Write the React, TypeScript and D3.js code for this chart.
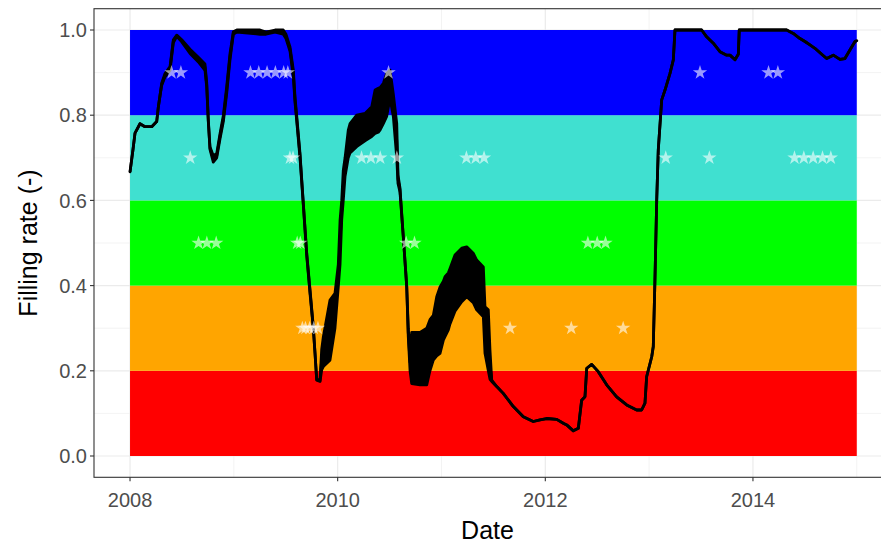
import React from "react";
import * as d3 from "d3";

// ---- data (decimal years) ----
const lineYears = [
  2008.000, 2008.029, 2008.048, 2008.096, 2008.144, 2008.209, 2008.257, 2008.273, 2008.305, 2008.337,
  2008.385, 2008.417, 2008.450, 2008.498, 2008.578, 2008.658, 2008.722, 2008.739, 2008.754, 2008.770,
  2008.802, 2008.835, 2008.867, 2008.899, 2008.931, 2008.963, 2008.995, 2009.028, 2009.252, 2009.310,
  2009.397, 2009.476, 2009.502, 2009.541, 2009.573, 2009.589, 2009.606, 2009.637, 2009.669, 2009.702,
  2009.734, 2009.765, 2009.782, 2009.798, 2009.830, 2009.846, 2009.862, 2009.926, 2009.974, 2010.006,
  2010.023, 2010.039, 2010.054, 2010.071, 2010.102, 2010.119, 2010.183, 2010.263, 2010.328, 2010.360,
  2010.391, 2010.408, 2010.440, 2010.472, 2010.504, 2010.536, 2010.569, 2010.581, 2010.600, 2010.632,
  2010.665, 2010.680, 2010.697, 2010.713, 2010.793, 2010.858, 2010.889, 2010.921, 2010.954, 2010.986,
  2011.018, 2011.034, 2011.066, 2011.082, 2011.130, 2011.195, 2011.243, 2011.306, 2011.339, 2011.371,
  2011.403, 2011.419, 2011.451, 2011.467, 2011.484, 2011.532, 2011.595, 2011.692, 2011.788, 2011.884,
  2011.949, 2012.013, 2012.110, 2012.173, 2012.206, 2012.270, 2012.318, 2012.350, 2012.382, 2012.399,
  2012.447, 2012.510, 2012.591, 2012.687, 2012.784, 2012.880, 2012.928, 2012.960, 2012.976, 2013.025,
  2013.040, 2013.056, 2013.073, 2013.088, 2013.121, 2013.153, 2013.201, 2013.233, 2013.249, 2013.506,
  2013.554, 2013.618, 2013.682, 2013.747, 2013.779, 2013.827, 2013.859, 2013.868, 2014.325, 2014.388,
  2014.453, 2014.501, 2014.549, 2014.597, 2014.662, 2014.710, 2014.774, 2014.838, 2014.886, 2014.934,
  2014.983, 2015.000,
];
// upper envelope of the filling rate
const rateHigh = [
  0.667, 0.720, 0.758, 0.780, 0.773, 0.773, 0.785, 0.820, 0.875, 0.898,
  0.914, 0.977, 0.988, 0.977, 0.955, 0.936, 0.920, 0.875, 0.789, 0.726,
  0.705, 0.710, 0.757, 0.800, 0.867, 0.945, 0.996, 1.000, 1.000, 0.995,
  1.000, 1.000, 0.990, 0.960, 0.906, 0.843, 0.797, 0.711, 0.594, 0.476,
  0.390, 0.304, 0.241, 0.180, 0.178, 0.250, 0.280, 0.366, 0.382, 0.450,
  0.554, 0.600, 0.671, 0.700, 0.765, 0.780, 0.800, 0.804, 0.820, 0.859,
  0.863, 0.865, 0.875, 0.898, 0.906, 0.850, 0.781, 0.660, 0.630, 0.515,
  0.400, 0.300, 0.240, 0.290, 0.290, 0.300, 0.320, 0.330, 0.374, 0.397,
  0.410, 0.421, 0.430, 0.440, 0.472, 0.488, 0.491, 0.476, 0.460, 0.452,
  0.444, 0.350, 0.343, 0.249, 0.178, 0.163, 0.147, 0.116, 0.092, 0.081,
  0.085, 0.088, 0.086, 0.077, 0.073, 0.059, 0.065, 0.131, 0.139, 0.206,
  0.215, 0.198, 0.167, 0.139, 0.120, 0.108, 0.108, 0.124, 0.186, 0.233,
  0.257, 0.413, 0.600, 0.718, 0.836, 0.859, 0.898, 0.930, 1.000, 1.000,
  0.984, 0.969, 0.949, 0.941, 0.941, 0.930, 0.943, 1.000, 1.000, 0.992,
  0.980, 0.973, 0.965, 0.957, 0.943, 0.933, 0.941, 0.931, 0.933, 0.953,
  0.973, 0.975,
];
// lower envelope of the filling rate
const rateLow = [
  0.667, 0.720, 0.758, 0.780, 0.773, 0.773, 0.785, 0.820, 0.870, 0.890,
  0.905, 0.970, 0.985, 0.972, 0.945, 0.925, 0.905, 0.865, 0.785, 0.720,
  0.690, 0.700, 0.745, 0.785, 0.850, 0.930, 0.990, 0.995, 0.990, 0.990,
  0.995, 0.990, 0.980, 0.950, 0.890, 0.830, 0.785, 0.700, 0.590, 0.470,
  0.380, 0.300, 0.240, 0.178, 0.175, 0.202, 0.210, 0.225, 0.300, 0.397,
  0.450, 0.554, 0.600, 0.656, 0.700, 0.711, 0.726, 0.740, 0.750, 0.757,
  0.760, 0.765, 0.780, 0.797, 0.840, 0.797, 0.700, 0.640, 0.620, 0.515,
  0.397, 0.280, 0.200, 0.170, 0.167, 0.167, 0.200, 0.225, 0.235, 0.241,
  0.272, 0.280, 0.296, 0.310, 0.340, 0.362, 0.374, 0.360, 0.343, 0.335,
  0.327, 0.241, 0.200, 0.180, 0.175, 0.163, 0.147, 0.116, 0.092, 0.081,
  0.085, 0.088, 0.086, 0.077, 0.073, 0.059, 0.065, 0.131, 0.139, 0.206,
  0.215, 0.198, 0.167, 0.139, 0.120, 0.108, 0.108, 0.124, 0.186, 0.233,
  0.257, 0.413, 0.600, 0.718, 0.836, 0.859, 0.898, 0.930, 1.000, 1.000,
  0.984, 0.969, 0.949, 0.941, 0.941, 0.930, 0.943, 1.000, 1.000, 0.992,
  0.980, 0.973, 0.965, 0.957, 0.943, 0.933, 0.941, 0.931, 0.933, 0.953,
  0.973, 0.975,
];

// stars (decimal years) at each class level
const stars09 = [2008.40, 2008.49, 2009.16, 2009.24, 2009.32, 2009.40, 2009.48, 2009.52, 2010.49, 2013.49, 2014.15, 2014.24];
const stars07 = [2008.58, 2009.54, 2009.57, 2010.23, 2010.32, 2010.41, 2010.57, 2011.24, 2011.33, 2011.41, 2013.16, 2013.58, 2014.40, 2014.49, 2014.58, 2014.67, 2014.75];
const stars05 = [2008.66, 2008.74, 2008.83, 2009.61, 2009.64, 2010.66, 2010.74, 2012.41, 2012.50, 2012.58];
const stars03 = [2009.66, 2009.69, 2009.73, 2009.77, 2009.81, 2011.66, 2012.25, 2012.75];
const starLevels = [0.9, 0.7, 0.5, 0.3];

// class bands
const bandLow = [0, 0.2, 0.4, 0.6, 0.8];
const bandHigh = [0.2, 0.4, 0.6, 0.8, 1.0];
const bandColors = ["#FF0000", "#FFA500", "#00FF00", "#40E0D0", "#0000FF"];
const bandStart = 2008;
const bandEnd = 2015;

const yTicks = [0, 0.2, 0.4, 0.6, 0.8, 1.0];
const yMinor = [0.1, 0.3, 0.5, 0.7, 0.9];
const xTicks = [2008, 2010, 2012, 2014];
const xMinor = [2009, 2011, 2013, 2015];

const W = 881;
const H = 547;
const panel = { left: 94, right: 882, top: 8.7, bottom: 477.3 };

export default function App() {
  const x = d3.scaleLinear().domain([2007.653, 2015.243]).range([panel.left, panel.right]);
  const y = d3.scaleLinear().domain([-0.05, 1.05]).range([panel.bottom, panel.top]);

  const pts = lineYears.map((t, i) => ({ t, hi: rateHigh[i], lo: rateLow[i] }));
  const area = d3
    .area<{ t: number; hi: number; lo: number }>()
    .x((d) => x(d.t))
    .y0((d) => y(d.lo))
    .y1((d) => y(d.hi));
  const line = d3
    .line<{ t: number; hi: number; lo: number }>()
    .x((d) => x(d.t))
    .y((d) => y((d.hi + d.lo) / 2));

  const star = d3.symbol().type(d3.symbolStar).size(64)() as string;
  const starGroups = [stars09, stars07, stars05, stars03];
  const font = "'Liberation Sans', Arial, sans-serif";
  const tickSize = 20;
  const titleSize = 25;

  return (
    <svg width={W} height={H} style={{ position: "absolute", left: 0, top: 0, background: "#fff" }}>
      <defs>
        <clipPath id="pclip">
          <rect x={panel.left} y={panel.top} width={panel.right - panel.left} height={panel.bottom - panel.top} />
        </clipPath>
      </defs>
      <rect x={0} y={0} width={W} height={H} fill="#fff" />
      <g clipPath="url(#pclip)">
        {yMinor.map((v) => (
          <line key={"ym" + v} x1={panel.left} x2={panel.right} y1={y(v)} y2={y(v)} stroke="#EBEBEB" strokeWidth={0.6} />
        ))}
        {xMinor.map((v) => (
          <line key={"xm" + v} y1={panel.top} y2={panel.bottom} x1={x(v)} x2={x(v)} stroke="#EBEBEB" strokeWidth={0.6} />
        ))}
        {yTicks.map((v) => (
          <line key={"yg" + v} x1={panel.left} x2={panel.right} y1={y(v)} y2={y(v)} stroke="#EBEBEB" strokeWidth={1.2} />
        ))}
        {xTicks.map((v) => (
          <line key={"xg" + v} y1={panel.top} y2={panel.bottom} x1={x(v)} x2={x(v)} stroke="#EBEBEB" strokeWidth={1.2} />
        ))}
        {bandLow.map((lo, i) => (
          <rect
            key={"b" + i}
            x={x(bandStart)}
            width={x(bandEnd) - x(bandStart)}
            y={y(bandHigh[i])}
            height={y(lo) - y(bandHigh[i])}
            fill={bandColors[i]}
          />
        ))}
        <path d={area(pts) as string} fill="#000" stroke="#000" strokeWidth={2.8} strokeLinejoin="round" />
        <path d={line(pts) as string} fill="none" stroke="#000" strokeWidth={2.8} strokeLinejoin="round" />
        {starGroups.map((g, gi) =>
          g.map((t, i) => (
            <path
              key={"s" + gi + "-" + i}
              d={star}
              transform={`translate(${x(t)},${y(starLevels[gi])})`}
              fill="#fff"
              fillOpacity={0.6}
            />
          ))
        )}
      </g>
      <rect
        x={panel.left}
        y={panel.top}
        width={panel.right - panel.left}
        height={panel.bottom - panel.top}
        fill="none"
        stroke="#333"
        strokeWidth={1.1}
      />
      {yTicks.map((v) => (
        <g key={"yt" + v}>
          <line x1={panel.left - 4} x2={panel.left} y1={y(v)} y2={y(v)} stroke="#333" strokeWidth={1.1} />
          <text x={panel.left - 7} y={y(v)} dy="0.36em" textAnchor="end" fontFamily={font} fontSize={tickSize} fill="#4D4D4D">
            {v.toFixed(1)}
          </text>
        </g>
      ))}
      {xTicks.map((v) => (
        <g key={"xt" + v}>
          <line x1={x(v)} x2={x(v)} y1={panel.bottom} y2={panel.bottom + 4} stroke="#333" strokeWidth={1.1} />
          <text x={x(v)} y={507} textAnchor="middle" fontFamily={font} fontSize={tickSize} fill="#4D4D4D">
            {v}
          </text>
        </g>
      ))}
      <text x={(panel.left + W) / 2} y={539} textAnchor="middle" fontFamily={font} fontSize={titleSize} fill="#000">
        Date
      </text>
      <text
        transform={`translate(37,${(panel.top + panel.bottom) / 2}) rotate(-90)`}
        textAnchor="middle"
        fontFamily={font}
        fontSize={titleSize}
        fill="#000"
      >
        Filling rate (-)
      </text>
    </svg>
  );
}
